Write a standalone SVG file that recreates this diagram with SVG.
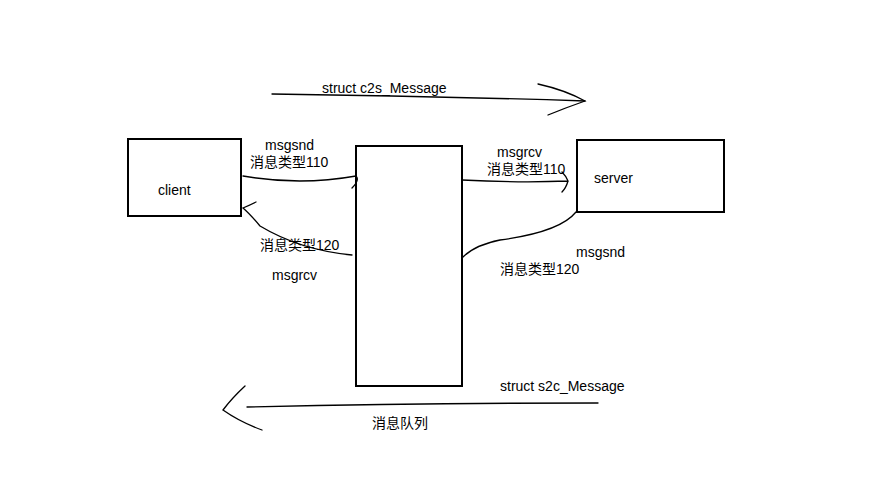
<svg xmlns="http://www.w3.org/2000/svg" width="890" height="500" viewBox="0 0 890 500">
<style>
.box{fill:none;stroke:#000;stroke-width:2}
.ln{fill:none;stroke:#000;stroke-width:1.3;stroke-linecap:round}
text{font-family:"Liberation Sans","Noto Sans CJK SC",sans-serif;font-size:14px;fill:#000}
</style>
<rect width="890" height="500" fill="#fff"/>
<g id="client"><rect class="box" x="128" y="139" width="113" height="77"/><text x="158" y="195">client</text></g>
<g id="queue"><rect class="box" x="356" y="146" width="106" height="240"/></g>
<g id="server"><rect class="box" x="577" y="140" width="147" height="72"/><text x="594" y="183">server</text></g>
<g id="connectors">
<path class="ln" d="M272,94 Q430,96 585,101"/>
<path class="ln" d="M538,84 Q565,90 585,101 Q565,108 548,115"/>
<path class="ln" d="M247,407 Q420,403 598,403"/>
<path class="ln" d="M245,386 Q232,398 223,410 Q240,422 262,430"/>
<path class="ln" d="M243,176 Q300,186 356,176 Q360,180 352,188"/>
<path class="ln" d="M352,255 Q300,250 260,226 Q250,214 243,208 Q250,205 256,202"/>
<path class="ln" d="M462,180 Q520,183 568,181 Q566,176 562,172 M568,181 Q566,188 562,192"/>
<path class="ln" d="M576,212 Q560,232 500,240 Q475,245 463,257"/>
</g>
<g id="labels">
<text x="322" y="93">struct c2s_Message</text>
<text x="500" y="391">struct s2c_Message</text>
<text x="372" y="428">消息队列</text>
<text x="265" y="150">msgsnd</text>
<text x="250" y="167">消息类型110</text>
<text x="260" y="250">消息类型120</text>
<text x="272" y="280">msgrcv</text>
<text x="497" y="157">msgrcv</text>
<text x="487" y="174">消息类型110</text>
<text x="576" y="257">msgsnd</text>
<text x="500" y="274">消息类型120</text>
</g>
</svg>
